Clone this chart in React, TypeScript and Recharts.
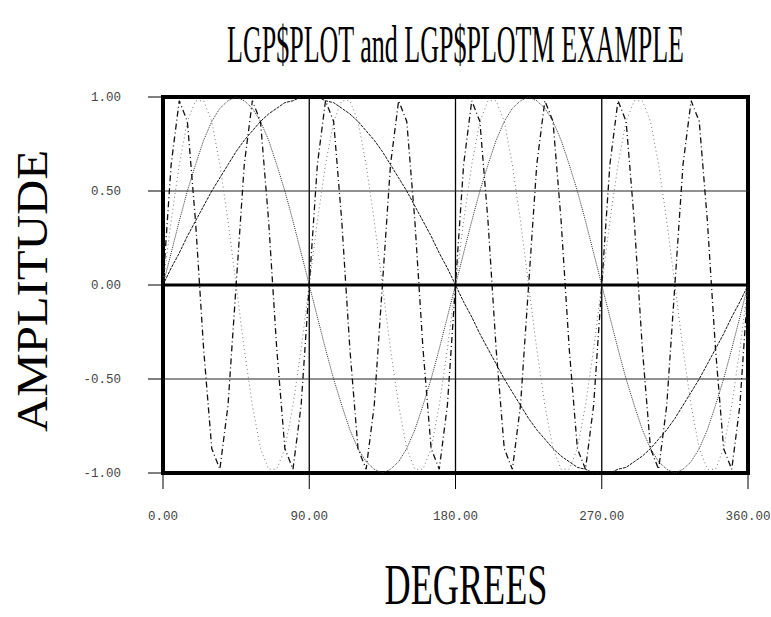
import React from 'react';
import { LineChart, Line, XAxis, YAxis, ReferenceLine, ReferenceArea } from 'recharts';

// x positions in degrees
const degrees = [
  0, 5, 10, 15, 20, 25, 30, 35, 40, 45, 50, 55, 60, 65, 70, 75, 80, 85, 90,
  95, 100, 105, 110, 115, 120, 125, 130, 135, 140, 145, 150, 155, 160, 165, 170, 175, 180,
  185, 190, 195, 200, 205, 210, 215, 220, 225, 230, 235, 240, 245, 250, 255, 260, 265, 270,
  275, 280, 285, 290, 295, 300, 305, 310, 315, 320, 325, 330, 335, 340, 345, 350, 355, 360,
];

// curve 1 (one cycle)
const wave1 = [
  0, 0.09, 0.17, 0.26, 0.34, 0.42, 0.5, 0.57, 0.64, 0.71, 0.77, 0.82, 0.87, 0.91, 0.94, 0.97, 0.98, 1, 1,
  1, 0.98, 0.97, 0.94, 0.91, 0.87, 0.82, 0.77, 0.71, 0.64, 0.57, 0.5, 0.42, 0.34, 0.26, 0.17, 0.09, 0,
  -0.09, -0.17, -0.26, -0.34, -0.42, -0.5, -0.57, -0.64, -0.71, -0.77, -0.82, -0.87, -0.91, -0.94, -0.97, -0.98, -1, -1,
  -1, -0.98, -0.97, -0.94, -0.91, -0.87, -0.82, -0.77, -0.71, -0.64, -0.57, -0.5, -0.42, -0.34, -0.26, -0.17, -0.09, 0,
];

// curve 2 (two cycles)
const wave2 = [
  0, 0.17, 0.34, 0.5, 0.64, 0.77, 0.87, 0.94, 0.98, 1, 0.98, 0.94, 0.87, 0.77, 0.64, 0.5, 0.34, 0.17, 0,
  -0.17, -0.34, -0.5, -0.64, -0.77, -0.87, -0.94, -0.98, -1, -0.98, -0.94, -0.87, -0.77, -0.64, -0.5, -0.34, -0.17, 0,
  0.17, 0.34, 0.5, 0.64, 0.77, 0.87, 0.94, 0.98, 1, 0.98, 0.94, 0.87, 0.77, 0.64, 0.5, 0.34, 0.17, 0,
  -0.17, -0.34, -0.5, -0.64, -0.77, -0.87, -0.94, -0.98, -1, -0.98, -0.94, -0.87, -0.77, -0.64, -0.5, -0.34, -0.17, 0,
];

// curve 3 (four cycles)
const wave4 = [
  0, 0.34, 0.64, 0.87, 0.98, 0.98, 0.87, 0.64, 0.34, 0, -0.34, -0.64, -0.87, -0.98, -0.98, -0.87, -0.64, -0.34, 0,
  0.34, 0.64, 0.87, 0.98, 0.98, 0.87, 0.64, 0.34, 0, -0.34, -0.64, -0.87, -0.98, -0.98, -0.87, -0.64, -0.34, 0,
  0.34, 0.64, 0.87, 0.98, 0.98, 0.87, 0.64, 0.34, 0, -0.34, -0.64, -0.87, -0.98, -0.98, -0.87, -0.64, -0.34, 0,
  0.34, 0.64, 0.87, 0.98, 0.98, 0.87, 0.64, 0.34, 0, -0.34, -0.64, -0.87, -0.98, -0.98, -0.87, -0.64, -0.34, 0,
];

// curve 4 (eight cycles)
const wave8 = [
  0, 0.64, 0.98, 0.87, 0.34, -0.34, -0.87, -0.98, -0.64, 0, 0.64, 0.98, 0.87, 0.34, -0.34, -0.87, -0.98, -0.64, 0,
  0.64, 0.98, 0.87, 0.34, -0.34, -0.87, -0.98, -0.64, 0, 0.64, 0.98, 0.87, 0.34, -0.34, -0.87, -0.98, -0.64, 0,
  0.64, 0.98, 0.87, 0.34, -0.34, -0.87, -0.98, -0.64, 0, 0.64, 0.98, 0.87, 0.34, -0.34, -0.87, -0.98, -0.64, 0,
  0.64, 0.98, 0.87, 0.34, -0.34, -0.87, -0.98, -0.64, 0, 0.64, 0.98, 0.87, 0.34, -0.34, -0.87, -0.98, -0.64, 0,
];

const xTicks = [0, 90, 180, 270, 360];
const yTicks = [-1, -0.5, 0, 0.5, 1];
const xGrid = [90, 180, 270];
const yGrid = [-0.5, 0.5];

const title = 'LGP$PLOT and LGP$PLOTM EXAMPLE';
const xTitle = 'DEGREES';
const yTitle = 'AMPLITUDE';

const data = degrees.map((d, i) => ({
  deg: d,
  w1: wave1[i],
  w2: wave2[i],
  w4: wave4[i],
  w8: wave8[i],
}));

const tickFont = { fontFamily: 'Liberation Mono', fontSize: 12.5, fill: '#444' };

export default function App() {
  return (
    <div style={{ position: 'absolute', left: 0, top: 0, width: 771, height: 617, background: '#fff' }}>
      <LineChart width={771} height={617} data={data} margin={{ top: 97, right: 23, bottom: 0, left: 80 }}>
        <XAxis
          dataKey="deg"
          type="number"
          domain={[0, 360]}
          ticks={xTicks}
          tickFormatter={(v: number) => v.toFixed(2)}
          height={144}
          axisLine={false}
          tickLine={{ stroke: '#000', strokeWidth: 1 }}
          tickSize={16}
          tickMargin={22}
          tick={tickFont}
          interval={0}
        />
        <YAxis
          type="number"
          domain={[-1, 1]}
          ticks={yTicks}
          tickFormatter={(v: number) => v.toFixed(2)}
          width={83}
          axisLine={false}
          tickLine={{ stroke: '#000', strokeWidth: 1 }}
          tickSize={15}
          tickMargin={27}
          tick={tickFont}
          interval={0}
        />
        {xGrid.map((g) => (
          <ReferenceLine key={'x' + g} x={g} stroke="#000" strokeWidth={1.3} />
        ))}
        {yGrid.map((g) => (
          <ReferenceLine key={'y' + g} y={g} stroke="#222" strokeWidth={1} />
        ))}
        <Line dataKey="w4" type="linear" stroke="#777" strokeWidth={1} strokeDasharray="1 3" dot={false} activeDot={false} isAnimationActive={false} />
        <Line dataKey="w2" type="linear" stroke="#333" strokeWidth={1} strokeDasharray="1 1" dot={false} activeDot={false} isAnimationActive={false} />
        <Line dataKey="w1" type="linear" stroke="#111" strokeWidth={1} strokeDasharray="3 1" dot={false} activeDot={false} isAnimationActive={false} />
        <Line dataKey="w8" type="linear" stroke="#111" strokeWidth={1.3} strokeDasharray="6 3 1 3" dot={false} activeDot={false} isAnimationActive={false} />
        <ReferenceLine y={0} stroke="#000" strokeWidth={3} />
        <ReferenceArea x1={0} x2={360} y1={-1} y2={1} fill="none" fillOpacity={0} stroke="#000" strokeWidth={4} strokeOpacity={1} />
      </LineChart>
      <svg width={771} height={617} style={{ position: 'absolute', left: 0, top: 0, pointerEvents: 'none' }}>
        <text transform="translate(455.5,62) scale(1,2.06)" x={0} y={0} textAnchor="middle" fontFamily="Liberation Serif" fontSize={26} textLength={457} lengthAdjust="spacingAndGlyphs" fill="#000">
          {title}
        </text>
        <text transform="translate(466,604) scale(1,1.6)" x={0} y={0} textAnchor="middle" fontFamily="Liberation Serif" fontSize={36} textLength={163} lengthAdjust="spacingAndGlyphs" fill="#000">
          {xTitle}
        </text>
        <text transform="translate(47,291) rotate(-90)" x={0} y={0} textAnchor="middle" fontFamily="Liberation Serif" fontSize={45} textLength={282} lengthAdjust="spacingAndGlyphs" fill="#000">
          {yTitle}
        </text>
      </svg>
    </div>
  );
}
